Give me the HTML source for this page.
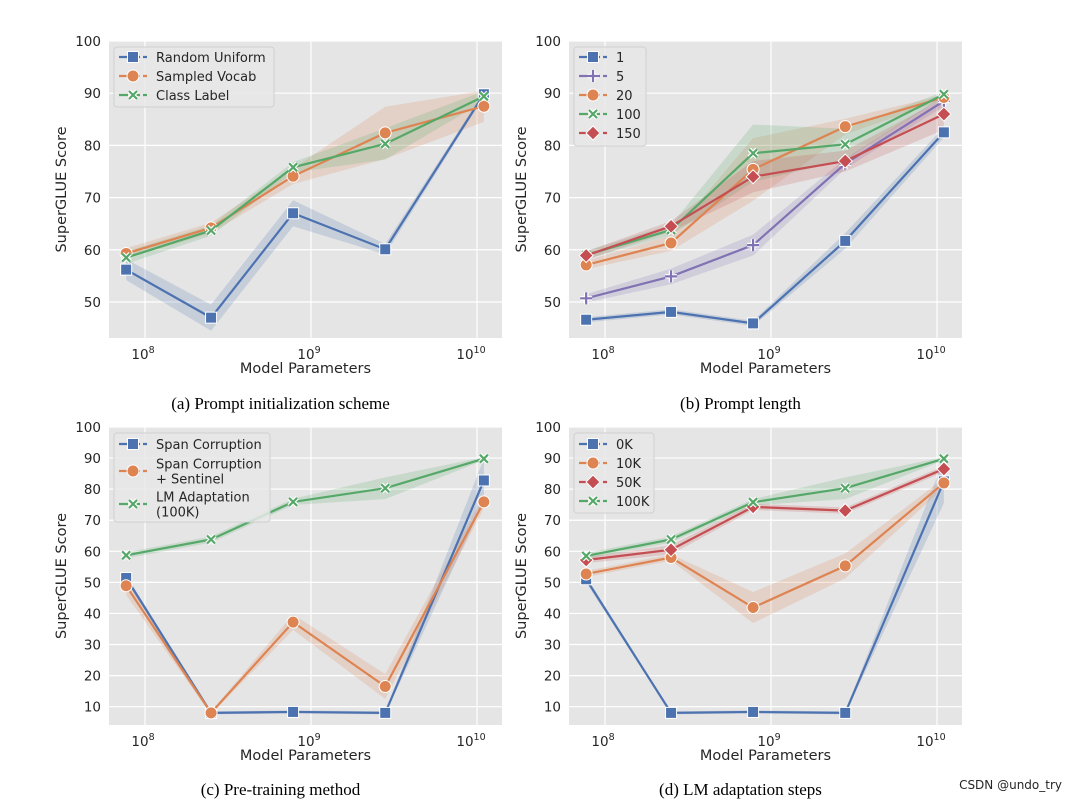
<!DOCTYPE html>
<html><head><meta charset="utf-8"><style>
body{margin:0;background:#fff;width:1070px;height:801px;overflow:hidden}
svg{display:block}
text{font-family:"DejaVu Sans","Liberation Sans",sans-serif;fill:#262626}
.cap{font-family:"Liberation Serif",serif;font-size:17px;fill:#000}
</style></head><body>
<svg id="svg" width="1070" height="801"></svg>
<script>
const sizes=[7.7e7,2.5e8,7.8e8,2.8e9,1.1e10];
const aRU=[56.2,47.0,67.0,60.1,89.8], aRUe=[2,2.5,2.5,1,0.5];
const aSV=[59.3,64.2,74.1,82.4,87.5], aSVe=[1,1,1.5,5,3];
const aCL=[58.5,63.7,75.8,80.3,89.4], aCLe=[1.2,1,1,3,1];
const b1=[46.6,48.1,45.9,61.7,82.5], b1e=[0.5,0.5,0.5,1.5,1];
const b5=[50.7,54.9,60.9,76.5,88.5], b5e=[0.8,1.5,2,1,1];
const b20=[57.1,61.3,75.4,83.6,89.2], b20e=[0.8,1.5,6,1.5,0.5];
const b100=[59.0,63.8,78.5,80.2,89.8], b100e=[0.8,1,5.5,3,0.5];
const b150=[58.9,64.5,74.0,77.0,86.0], b150e=[0.8,1,3,2,3];
const cSC=[51.4,8.0,8.3,8.0,82.8], cSCe=[1,0.5,0.5,0.5,7];
const cSS=[48.9,8.0,37.2,16.5,75.9], cSSe=[3,0.5,2.5,4,2];
const cLM=[58.7,63.8,75.9,80.3,89.8], cLMe=[1,1,1,3.5,0.5];
const d0=[51.0,8.0,8.3,8.0,82.5], d0e=[1,0.5,0.5,0.5,7];
const d10=[52.7,58.0,41.9,55.3,82.0], d10e=[1,1,5,4,1.5];
const d50=[57.2,60.5,74.3,73.1,86.5], d50e=[1,1.5,1,1,1];
const d100=[58.5,63.8,75.8,80.3,89.8], d100e=[1,1,1,3.5,0.5];
const ticksA=[50,60,70,80,90,100], ticksC=[10,20,30,40,50,60,70,80,90,100];
const C={blue:'#4c72b0',orange:'#dd8452',green:'#55a868',red:'#c44e52',purple:'#8172b3'};
const NS='http://www.w3.org/2000/svg', svg=document.getElementById('svg');
function el(t,a,p){const e=document.createElementNS(NS,t);for(const k in a)e.setAttribute(k,a[k]);(p||svg).appendChild(e);return e;}
function marker(g,type,x,y,col,s){
 let m;
 if(type==='sq')m=el('rect',{x:x-5.5,y:y-5.5,width:11,height:11,fill:col,stroke:'#fff','stroke-width':1},g);
 else if(type==='ci')m=el('circle',{cx:x,cy:y,r:6,fill:col,stroke:'#fff','stroke-width':1},g);
 else if(type==='di')m=el('path',{d:`M${x} ${y-7}L${x+7} ${y}L${x} ${y+7}L${x-7} ${y}Z`,fill:col,stroke:'#fff','stroke-width':1},g);
 else if(type==='x'){m=el('path',{d:`M${x-4} ${y-4}L${x+4} ${y+4}M${x+4} ${y-4}L${x-4} ${y+4}`,stroke:'#fff','stroke-width':4.5,fill:'none'},g);el('path',{d:`M${x-4} ${y-4}L${x+4} ${y+4}M${x+4} ${y-4}L${x-4} ${y+4}`,stroke:col,'stroke-width':2.2,fill:'none'},g);}
 else {m=el('path',{d:`M${x-6} ${y}L${x+6} ${y}M${x} ${y-6}L${x} ${y+6}`,stroke:'#fff','stroke-width':4.5,fill:'none'},g);el('path',{d:`M${x-6} ${y}L${x+6} ${y}M${x} ${y-6}L${x} ${y+6}`,stroke:col,'stroke-width':2.2,fill:'none'},g);}
}
function panel(name,ox,oy,ymin,ymax,yb,ticks,series,legend,cap){
 const L=109+ox,R=502+ox,T=41+oy,B=yb+oy;
 const x0=145+ox, dec=166;
 const X=v=>x0+(Math.log10(v)-8)*dec;
 const Y=v=>B-(v-ymin)/(ymax-ymin)*(B-T);
 const g=el('g',{});
 
 
 el('rect',{x:L,y:T,width:R-L,height:B-T,fill:'#e5e5e5'},g);
 ticks.forEach(t=>{el('line',{x1:L,x2:R,y1:Y(t),y2:Y(t),stroke:'#fff','stroke-width':1.2},g);
  const tx=el('text',{x:L-8,y:Y(t)+5,'text-anchor':'end','font-size':13.5},g);tx.textContent=t;});
 [8,9,10].forEach(p=>{const xx=X(Math.pow(10,p));el('line',{x1:xx,x2:xx,y1:T,y2:B,stroke:'#fff','stroke-width':1.2},g);
  const tx=el('text',{x:xx-(p==10?6:2),y:B+21,'text-anchor':'middle','font-size':13.5},g);tx.textContent='10';
  const sp=el('tspan',{dy:-6,'font-size':9.5},tx);sp.textContent=p;});
 const xl=el('text',{x:(L+R)/2,y:B+35,'text-anchor':'middle','font-size':14.5},g);xl.textContent='Model Parameters';
 
 const yl=el('text',{x:0,y:0,'text-anchor':'middle','font-size':14.5,transform:`translate(${L-43},${(T+B)/2}) rotate(-90)`},g);yl.textContent='SuperGLUE Score';
 
 series.forEach(s=>{
  const up=s.v.map((v,i)=>[X(sizes[i]),Y(v+s.e[i])]), dn=s.v.map((v,i)=>[X(sizes[i]),Y(v-s.e[i])]).reverse();
  const band=el('path',{d:'M'+up.concat(dn).map(p=>p.join(' ')).join('L')+'Z',fill:s.c,'fill-opacity':0.2},g);
  
 });
 series.forEach(s=>{
  const ln=el('polyline',{points:s.v.map((v,i)=>X(sizes[i])+','+Y(v)).join(' '),fill:'none',stroke:s.c,'stroke-width':2.2},g);
  
  s.v.forEach((v,i)=>marker(g,s.m,X(sizes[i]),Y(v),s.c));
 });
 const lg=el('g',{},g);
 
 el('rect',{x:L+5,y:T+6,width:legend.w,height:legend.h,rx:3,fill:'#e8e8e8','fill-opacity':0.85,stroke:'#d0d0d0'},lg);
 legend.items.forEach((it,k)=>{const s=series[it.s];const yy=T+6+it.y;
  el('line',{x1:L+10,x2:L+38,y1:yy,y2:yy,stroke:s.c,'stroke-width':2.2,'stroke-dasharray':'9 3'},lg);
  marker(lg,s.m,L+24,yy,s.c);
  it.t.forEach((line,j)=>{const tx=el('text',{x:L+47,y:yy+5+(j-(it.t.length-1)/2)*15,'font-size':13},lg);tx.textContent=line;});
 });
 const cp=el('text',{x:(L+R)/2-25,y:oy+409,'text-anchor':'middle',class:'cap'});cp.textContent=cap;
 
}
panel('panel-a-init',0,0,43.1,100,338,ticksA,[
 {n:'random-uniform',v:aRU,e:aRUe,c:C.blue,m:'sq'},{n:'sampled-vocab',v:aSV,e:aSVe,c:C.orange,m:'ci'},{n:'class-label',v:aCL,e:aCLe,c:C.green,m:'x'}],
 {w:160,h:60,items:[{s:0,y:10,t:['Random Uniform']},{s:1,y:29,t:['Sampled Vocab']},{s:2,y:48,t:['Class Label']}]},'(a) Prompt initialization scheme');
panel('panel-b-length',460,0,43.1,100,338,ticksA,[
 {n:'len-1',v:b1,e:b1e,c:C.blue,m:'sq'},{n:'len-5',v:b5,e:b5e,c:C.purple,m:'pl'},{n:'len-20',v:b20,e:b20e,c:C.orange,m:'ci'},{n:'len-100',v:b100,e:b100e,c:C.green,m:'x'},{n:'len-150',v:b150,e:b150e,c:C.red,m:'di'}],
 {w:72,h:99,items:[{s:0,y:10,t:['1']},{s:1,y:29,t:['5']},{s:2,y:48,t:['20']},{s:3,y:67,t:['100']},{s:4,y:86,t:['150']}]},'(b) Prompt length');
panel('panel-c-pretrain',0,386,4.1,100,725-386,ticksC,[
 {n:'span-corruption',v:cSC,e:cSCe,c:C.blue,m:'sq'},{n:'span-corruption-sentinel',v:cSS,e:cSSe,c:C.orange,m:'ci'},{n:'lm-adaptation',v:cLM,e:cLMe,c:C.green,m:'x'}],
 {w:156,h:89,items:[{s:0,y:11,t:['Span Corruption']},{s:1,y:38,t:['Span Corruption','+ Sentinel']},{s:2,y:71,t:['LM Adaptation','(100K)']}]},'(c) Pre-training method');
panel('panel-d-steps',460,386,4.1,100,725-386,ticksC,[
 {n:'steps-0k',v:d0,e:d0e,c:C.blue,m:'sq'},{n:'steps-10k',v:d10,e:d10e,c:C.orange,m:'ci'},{n:'steps-50k',v:d50,e:d50e,c:C.red,m:'di'},{n:'steps-100k',v:d100,e:d100e,c:C.green,m:'x'}],
 {w:80,h:80,items:[{s:0,y:11,t:['0K']},{s:1,y:30,t:['10K']},{s:2,y:49,t:['50K']},{s:3,y:68,t:['100K']}]},'(d) LM adaptation steps');
const wm=el('text',{x:1062,y:789,'text-anchor':'end','font-size':12,fill:'#999'});wm.textContent='CSDN @undo_try';


</script>
</body></html>
